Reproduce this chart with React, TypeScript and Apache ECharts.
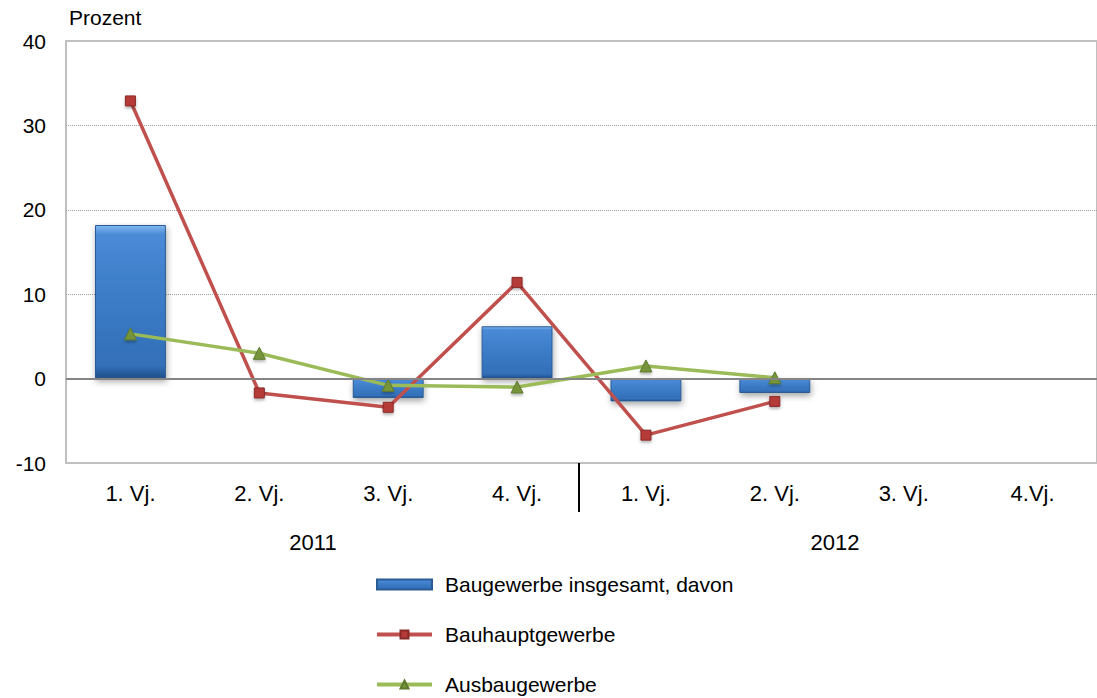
import React, { useEffect, useRef } from 'react';
import * as echarts from 'echarts';

const quarters = ['1. Vj.', '2. Vj.', '3. Vj.', '4. Vj.', '1. Vj.', '2. Vj.', '3. Vj.', '4.Vj.'];
const years = ['2011', '2012'];
const seriesNames = ['Baugewerbe insgesamt, davon', 'Bauhauptgewerbe', 'Ausbaugewerbe'];
const baugewerbe = [18.2, -0.1, -2.3, 6.2, -2.7, -1.7, null, null];
const bauhaupt = [32.9, -1.7, -3.4, 11.4, -6.7, -2.7, null, null];
const ausbau = [5.3, 3.0, -0.8, -1.0, 1.5, 0.1, null, null];
const yMin = -10;
const yMax = 40;
const yStep = 10;
const unitLabel = 'Prozent';

const FONT = "'Liberation Sans', Arial, sans-serif";

export default function App() {
  const ref = useRef<HTMLDivElement>(null);
  useEffect(() => {
    document.body.style.margin = '0';
    const chart = echarts.init(ref.current!, null, { renderer: 'svg' });
    const barFill = new echarts.graphic.LinearGradient(0, 0, 0, 1, [
      { offset: 0, color: '#84b8f0' },
      { offset: 0.06, color: '#4a8ad6' },
      { offset: 0.5, color: '#3b7bc6' },
      { offset: 0.92, color: '#336fb8' },
      { offset: 1, color: '#1f4f88' },
    ]);
    chart.setOption({
      animation: false,
      textStyle: { fontFamily: FONT },
      grid: {
        left: 66,
        top: 41,
        width: 1037,
        height: 422,
        show: true,
        borderColor: '#c0c0c0',
        borderWidth: 2,
        containLabel: false,
      },
      xAxis: {
        type: 'category',
        data: quarters,
        axisLine: { show: false },
        axisTick: { show: false },
        splitLine: { show: false },
        axisLabel: { color: '#000', fontSize: 22, margin: 19, fontFamily: FONT },
      },
      yAxis: {
        type: 'value',
        min: yMin,
        max: yMax,
        interval: yStep,
        axisLine: { show: false },
        axisTick: { show: false },
        axisLabel: { color: '#000', fontSize: 21, margin: 20, fontFamily: FONT },
        splitLine: {
          show: true,
          showMinLine: false,
          showMaxLine: false,
          lineStyle: { color: '#a0a0a0', type: 'dotted', width: 1 },
        },
      },
      legend: {
        orient: 'vertical',
        left: 375,
        top: 574,
        height: 200,
        padding: 0,
        itemWidth: 55,
        itemHeight: 10,
        itemGap: 29,
        textStyle: { color: '#000', fontSize: 21, fontFamily: FONT, padding: [0, 0, 0, 8] },
        data: [
          { name: seriesNames[0], icon: 'rect' },
          { name: seriesNames[1], lineStyle: { width: 4 } },
          { name: seriesNames[2], lineStyle: { width: 4 } },
        ],
      },
      graphic: [
        {
          type: 'text',
          left: 69,
          top: 7,
          style: { text: unitLabel, fontSize: 21, fill: '#000', fontFamily: FONT },
        },
        {
          type: 'text',
          x: 313,
          y: 542,
          style: { text: years[0], fontSize: 22, fill: '#000', fontFamily: FONT, align: 'center', verticalAlign: 'middle' },
        },
        {
          type: 'text',
          x: 835,
          y: 542,
          style: { text: years[1], fontSize: 22, fill: '#000', fontFamily: FONT, align: 'center', verticalAlign: 'middle' },
        },
        {
          type: 'line',
          shape: { x1: 579, y1: 463, x2: 579, y2: 512 },
          style: { stroke: '#000', lineWidth: 2 },
        },
      ],
      series: [
        {
          name: seriesNames[0],
          type: 'bar',
          data: baugewerbe,
          barWidth: '55%',
          itemStyle: {
            color: barFill,
            borderColor: '#2a5b93',
            borderWidth: 1,
            shadowBlur: 6,
            shadowColor: 'rgba(0,0,0,0.35)',
            shadowOffsetX: 1,
            shadowOffsetY: 3,
          },
          markLine: {
            silent: true,
            symbol: 'none',
            label: { show: false },
            lineStyle: { color: '#858585', type: 'solid', width: 2 },
            data: [{ yAxis: 0 }],
          },
        },
        {
          name: seriesNames[1],
          type: 'line',
          data: bauhaupt,
          symbol: 'rect',
          symbolSize: 10,
          lineStyle: { color: '#c0504d', width: 3.5 },
          itemStyle: {
            color: '#b53b38',
            borderColor: '#8a2a28',
            borderWidth: 1,
            shadowBlur: 3,
            shadowColor: 'rgba(0,0,0,0.3)',
            shadowOffsetY: 2,
          },
          z: 3,
        },
        {
          name: seriesNames[2],
          type: 'line',
          data: ausbau,
          symbol: 'triangle',
          symbolSize: 12,
          lineStyle: { color: '#9bbb59', width: 3.5 },
          itemStyle: {
            color: '#76953b',
            borderColor: '#5f7a2e',
            borderWidth: 1,
            shadowBlur: 3,
            shadowColor: 'rgba(0,0,0,0.3)',
            shadowOffsetY: 2,
          },
          z: 4,
        },
      ],
    });
    return () => chart.dispose();
  }, []);
  return <div ref={ref} style={{ width: 1097, height: 698 }} />;
}
